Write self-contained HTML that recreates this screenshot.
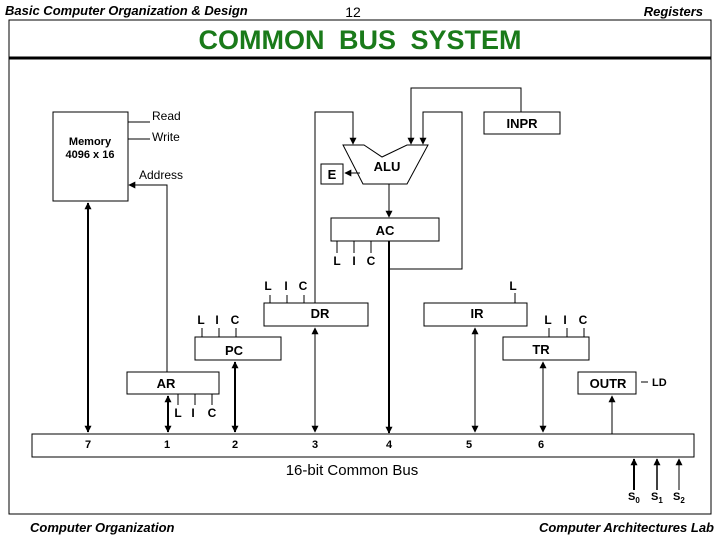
<!DOCTYPE html>
<html><head><meta charset="utf-8"><style>
html,body{margin:0;padding:0;background:#fff;}
svg{display:block;font-family:"Liberation Sans",Arial,sans-serif;}
</style></head><body>
<svg width="720" height="540" viewBox="0 0 720 540" xmlns="http://www.w3.org/2000/svg">
<defs>
<marker id="a" viewBox="0 0 10 10" refX="9" refY="5" markerWidth="7" markerHeight="7" orient="auto-start-reverse" markerUnits="userSpaceOnUse"><path d="M0,0 L10,5 L0,10 z" fill="#000"/></marker>
</defs>
<g font-style="italic" font-weight="bold" font-size="13" fill="#000">
<text x="5" y="15">Basic Computer Organization &amp; Design</text>
<text x="703" y="16" text-anchor="end">Registers</text>
<text x="30" y="532">Computer Organization</text>
<text x="714" y="532" text-anchor="end">Computer Architectures Lab</text>
</g>
<text x="353" y="17" font-size="14" text-anchor="middle">12</text>
<rect x="9" y="20" width="702" height="494" fill="none" stroke="#000" stroke-width="1"/>
<line x1="9" y1="58" x2="711" y2="58" stroke="#000" stroke-width="3"/>
<text x="360" y="49" font-size="27" font-weight="bold" fill="#1a7a1a" text-anchor="middle" word-spacing="7">COMMON BUS SYSTEM</text>

<g stroke="#000" fill="none" stroke-width="1">
<rect x="53" y="112" width="75" height="89"/>
<line x1="128" y1="122" x2="150" y2="122"/>
<line x1="128" y1="139" x2="150" y2="139"/>
<polyline points="167,372 167,185 129,185" marker-end="url(#a)"/>
<line x1="88" y1="203" x2="88" y2="432" stroke-width="2" marker-start="url(#a)" marker-end="url(#a)"/>
<rect x="484" y="112" width="76" height="22"/>
<polyline points="521,112 521,88 411,88 411,144" marker-end="url(#a)"/>
<polygon points="343,145 364,145 382,157 407,145 428,145 407,184 363,184"/>
<rect x="321" y="164" width="22" height="20"/>
<line x1="360" y1="173" x2="345" y2="173" marker-end="url(#a)"/>
<polyline points="315,303 315,112 353,112 353,144" marker-end="url(#a)"/>
<polyline points="389,269 462,269 462,112 423,112 423,144" marker-end="url(#a)"/>
<line x1="389" y1="184" x2="389" y2="217" marker-end="url(#a)"/>
<rect x="331" y="218" width="108" height="23"/>
<line x1="337" y1="241" x2="337" y2="253"/><line x1="354" y1="241" x2="354" y2="253"/><line x1="371" y1="241" x2="371" y2="253"/>
<line x1="389" y1="241" x2="389" y2="433" stroke-width="2" marker-end="url(#a)"/>
<rect x="264" y="303" width="104" height="23"/>
<line x1="270" y1="295" x2="270" y2="303"/><line x1="287" y1="295" x2="287" y2="303"/><line x1="304" y1="295" x2="304" y2="303"/>
<line x1="315" y1="328" x2="315" y2="432" marker-start="url(#a)" marker-end="url(#a)"/>
<rect x="424" y="303" width="103" height="23"/>
<line x1="515" y1="293" x2="515" y2="303"/>
<line x1="475" y1="328" x2="475" y2="432" marker-start="url(#a)" marker-end="url(#a)"/>
<rect x="195" y="337" width="86" height="23"/>
<line x1="202" y1="328" x2="202" y2="337"/><line x1="219" y1="328" x2="219" y2="337"/><line x1="236" y1="328" x2="236" y2="337"/>
<line x1="235" y1="362" x2="235" y2="432" stroke-width="2" marker-start="url(#a)" marker-end="url(#a)"/>
<rect x="503" y="337" width="86" height="23"/>
<line x1="549" y1="328" x2="549" y2="337"/><line x1="567" y1="328" x2="567" y2="337"/><line x1="584" y1="328" x2="584" y2="337"/>
<line x1="543" y1="362" x2="543" y2="432" marker-start="url(#a)" marker-end="url(#a)"/>
<rect x="127" y="372" width="92" height="22"/>
<line x1="178" y1="394" x2="178" y2="405"/><line x1="195" y1="394" x2="195" y2="405"/><line x1="212" y1="394" x2="212" y2="405"/>
<line x1="168" y1="396" x2="168" y2="432" stroke-width="2" marker-start="url(#a)" marker-end="url(#a)"/>
<rect x="578" y="372" width="58" height="22"/>
<line x1="641" y1="382" x2="648" y2="382"/>
<line x1="612" y1="434" x2="612" y2="396" marker-end="url(#a)"/>
<rect x="32" y="434" width="662" height="23"/>
<line x1="634" y1="490" x2="634" y2="459" stroke-width="2" marker-end="url(#a)"/>
<line x1="657" y1="490" x2="657" y2="459" stroke-width="1.5" marker-end="url(#a)"/>
<line x1="679" y1="490" x2="679" y2="459" marker-end="url(#a)"/>
</g>

<g font-size="12" fill="#000" font-weight="bold">
<text x="152" y="120" font-weight="normal">Read</text>
<text x="152" y="141" font-weight="normal">Write</text>
<text x="139" y="179" font-weight="normal">Address</text>
<text x="90" y="145" text-anchor="middle" font-size="11">Memory</text>
<text x="90" y="158" text-anchor="middle" font-size="11">4096 x 16</text>
<text x="522" y="128" text-anchor="middle" font-size="13">INPR</text>
<text x="387" y="171" text-anchor="middle" font-size="13">ALU</text>
<text x="332" y="179" text-anchor="middle" font-size="13">E</text>
<text x="385" y="235" text-anchor="middle" font-size="13">AC</text>
<text x="337" y="265" text-anchor="middle">L</text><text x="354" y="265" text-anchor="middle">I</text><text x="371" y="265" text-anchor="middle">C</text>
<text x="268" y="290" text-anchor="middle">L</text><text x="286" y="290" text-anchor="middle">I</text><text x="303" y="290" text-anchor="middle">C</text>
<text x="513" y="290" text-anchor="middle">L</text>
<text x="320" y="318" text-anchor="middle" font-size="13">DR</text>
<text x="477" y="318" text-anchor="middle" font-size="13">IR</text>
<text x="201" y="324" text-anchor="middle">L</text><text x="217" y="324" text-anchor="middle">I</text><text x="235" y="324" text-anchor="middle">C</text>
<text x="548" y="324" text-anchor="middle">L</text><text x="565" y="324" text-anchor="middle">I</text><text x="583" y="324" text-anchor="middle">C</text>
<text x="234" y="355" text-anchor="middle" font-size="13">PC</text>
<text x="541" y="354" text-anchor="middle" font-size="13">TR</text>
<text x="166" y="388" text-anchor="middle" font-size="13">AR</text>
<text x="608" y="388" text-anchor="middle" font-size="13">OUTR</text>
<text x="652" y="386" font-size="11">LD</text>
<text x="178" y="417" text-anchor="middle">L</text><text x="193" y="417" text-anchor="middle">I</text><text x="212" y="417" text-anchor="middle">C</text>
<g font-size="11">
<text x="88" y="448" text-anchor="middle">7</text>
<text x="167" y="448" text-anchor="middle">1</text>
<text x="235" y="448" text-anchor="middle">2</text>
<text x="315" y="448" text-anchor="middle">3</text>
<text x="389" y="448" text-anchor="middle">4</text>
<text x="469" y="448" text-anchor="middle">5</text>
<text x="541" y="448" text-anchor="middle">6</text>
</g>
<text x="352" y="475" text-anchor="middle" font-size="15" font-weight="normal">16-bit Common Bus</text>
<text x="628" y="500" font-size="11">S<tspan font-size="8" dy="3">0</tspan></text>
<text x="651" y="500" font-size="11">S<tspan font-size="8" dy="3">1</tspan></text>
<text x="673" y="500" font-size="11">S<tspan font-size="8" dy="3">2</tspan></text>
</g>
</svg>
</body></html>
